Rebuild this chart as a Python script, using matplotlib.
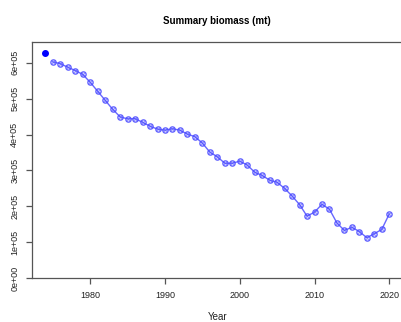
import matplotlib
matplotlib.use("Agg")
import matplotlib.pyplot as plt

plt.rcParams['font.family'] = ['Liberation Sans', 'DejaVu Sans']

years = list(range(1975, 2021))
biomass = [6.02, 5.97, 5.87, 5.78, 5.67, 5.45, 5.20, 4.95, 4.70, 4.49,
           4.435, 4.44, 4.34, 4.23, 4.15, 4.12, 4.16, 4.12, 4.01, 3.94,
           3.76, 3.51, 3.38, 3.20, 3.20, 3.26, 3.15, 2.95, 2.86, 2.73,
           2.67, 2.50, 2.29, 2.05, 1.73, 1.84, 2.06, 1.92, 1.54, 1.33,
           1.42, 1.30, 1.13, 1.24, 1.36, 1.79]
biomass = [v * 1e5 for v in biomass]
virgin_year = 1974
virgin_biomass = 6.27e5

yticks = [0, 1e5, 2e5, 3e5, 4e5, 5e5, 6e5]
ytick_labels = ["0e+00", "1e+05", "2e+05", "3e+05", "4e+05", "5e+05", "6e+05"]
xticks = [1980, 1990, 2000, 2010, 2020]

fig = plt.figure(figsize=(4.01, 3.22), dpi=100)
ax = fig.add_axes([0.079, 0.1357, 0.926, 0.735])

col = (0.3, 0.3, 1.0)
ax.plot(years, biomass, color=col, lw=1.0, marker='o', ms=3.8, mfc='none',
        mec=col, mew=1.0, alpha=0.85)
ax.plot(years, biomass, ls='none', marker='x', ms=2.4, mec=col, mew=0.7, alpha=0.6)
ax.plot([virgin_year], [virgin_biomass], 'o', color='#0000ff', ms=4.0)

ymax = max(virgin_biomass, max(biomass)) * 1.05
ax.set_ylim(0, ymax)
x0, x1 = virgin_year, years[-1]
pad = (x1 - x0) * 0.04
ax.set_xlim(x0 - pad, x1 + pad)

ax.set_xticks(xticks)
ax.set_xticklabels([str(t) for t in xticks], fontsize=6.5)
ax.set_yticks(yticks)
ax.set_yticklabels(ytick_labels, fontsize=6.5, rotation=90, va='center')
for s in ax.spines.values():
    s.set_color('#555555')
    s.set_linewidth(0.9)
ax.tick_params(colors='#555555', labelcolor='#222222', length=4, width=0.9, pad=5)

ax.set_xlabel("Year", fontsize=7, color='#222222', labelpad=9)
ax.set_title("Summary biomass (mt)", fontsize=7, fontweight='bold', pad=13)

fig.savefig("out.png", dpi=100, facecolor='white')
